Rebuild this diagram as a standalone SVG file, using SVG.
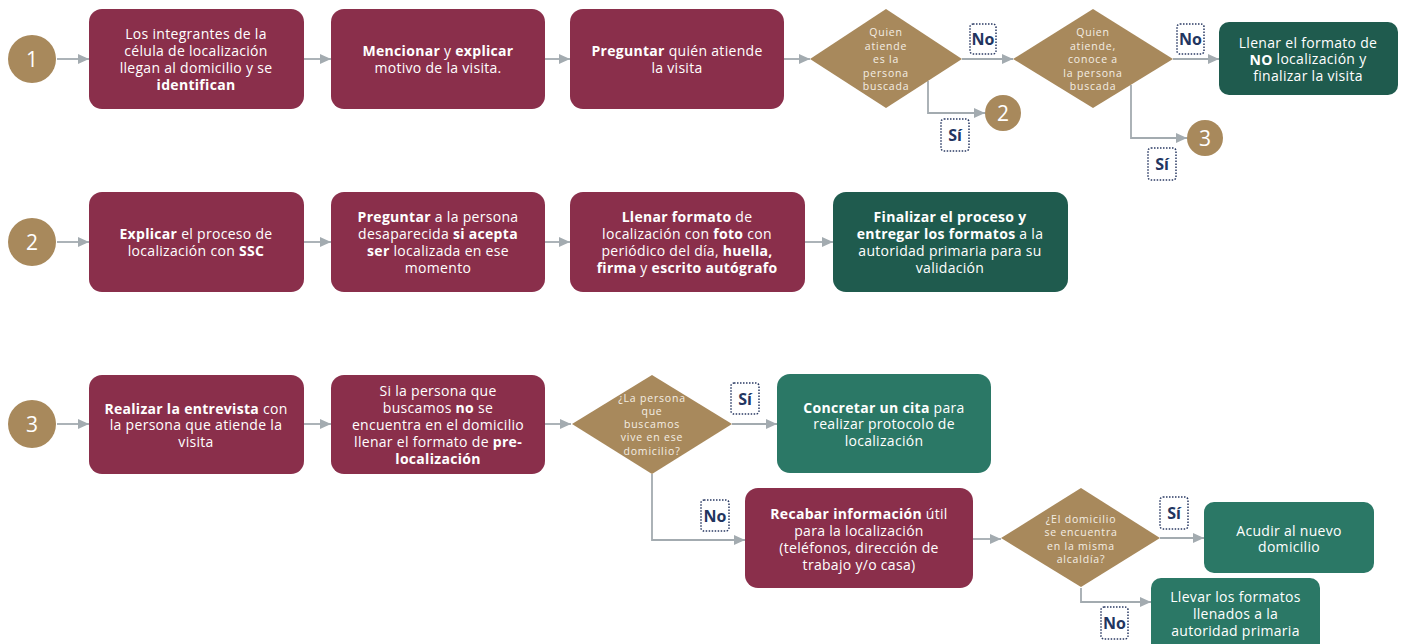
<svg xmlns="http://www.w3.org/2000/svg" width="1405" height="644" viewBox="0 0 1405 644">
<defs>
<marker id="arr" markerUnits="userSpaceOnUse" markerWidth="12" markerHeight="10" refX="11" refY="5" orient="auto">
<path d="M0,0 L11,5 L0,10 Z" fill="#A3ABB0"/>
</marker>
<style>
.con{fill:none;stroke:#A3ABB0;stroke-width:1.8;marker-end:url(#arr)}
.mar{fill:#8A2F4B}
.dg{fill:#1F5B4E}
.tg{fill:#2B7866}
.gold{fill:#A8895C}
.t{font-family:"Open Sans","Liberation Sans",sans-serif;font-size:14px;letter-spacing:0.3px;fill:#fff;text-anchor:middle;dominant-baseline:central}
.b{font-weight:700}
.d{font-family:"Open Sans","Liberation Sans",sans-serif;font-size:10.5px;letter-spacing:0.8px;fill:#F4EEE4;text-anchor:middle;dominant-baseline:central}
.n{font-family:"Open Sans","Liberation Sans",sans-serif;font-size:21px;fill:#fff;text-anchor:middle;dominant-baseline:central}
.lb rect{fill:#fff;stroke:#2A3A63;stroke-width:1.5;stroke-dasharray:1.5 1.5}
.lb text{font-family:"Open Sans","Liberation Sans",sans-serif;font-size:16px;font-weight:700;fill:#22355F;text-anchor:middle;dominant-baseline:central}
</style>
</defs>

<g id="connectors">
<path class="con" d="M57,59 H89"/>
<path class="con" d="M304,59 H331"/>
<path class="con" d="M545,59 H570"/>
<path class="con" d="M784,59 H810"/>
<path class="con" d="M962,59 H1013"/>
<path class="con" d="M1173,59 H1219"/>
<path class="con" d="M928,81 V113 H985"/>
<path class="con" d="M1131,85 V138 H1187"/>
<path class="con" d="M57,242 H89"/>
<path class="con" d="M304,242 H331"/>
<path class="con" d="M545,242 H570"/>
<path class="con" d="M805,242 H833"/>
<path class="con" d="M57,424 H89"/>
<path class="con" d="M304,424 H331"/>
<path class="con" d="M545,424 H571"/>
<path class="con" d="M732,424 H777"/>
<path class="con" d="M652,474 V540 H745"/>
<path class="con" d="M973,539 H1001"/>
<path class="con" d="M1160,538 H1204"/>
<path class="con" d="M1081,588 V602 H1151"/>
</g>

<g id="c1"><circle class="gold" cx="32" cy="59" r="24"/><text class="n" x="32" y="59">1</text></g>
<g id="c2"><circle class="gold" cx="32" cy="242" r="24"/><text class="n" x="32" y="242">2</text></g>
<g id="c3"><circle class="gold" cx="32" cy="424" r="24"/><text class="n" x="32" y="424">3</text></g>
<g id="c2b"><circle class="gold" cx="1003" cy="113" r="18"/><text class="n" x="1003" y="113">2</text></g>
<g id="c3b"><circle class="gold" cx="1205" cy="138" r="18"/><text class="n" x="1205" y="138">3</text></g>

<g id="n1">
<rect class="mar" x="89" y="9" width="215" height="100" rx="13"/>
<text class="t" x="196" y="33">Los integrantes de la</text>
<text class="t" x="196" y="50">célula de localización</text>
<text class="t" x="196" y="67">llegan al domicilio y se</text>
<text class="t b" x="196" y="84">identifican</text>
</g>
<g id="n2">
<rect class="mar" x="331" y="9" width="214" height="100" rx="13"/>
<text class="t" x="438" y="50"><tspan class="b">Mencionar</tspan> y <tspan class="b">explicar</tspan></text>
<text class="t" x="438" y="67">motivo de la visita.</text>
</g>
<g id="n3">
<rect class="mar" x="570" y="9" width="214" height="100" rx="13"/>
<text class="t" x="677" y="50"><tspan class="b">Preguntar</tspan> quién atiende</text>
<text class="t" x="677" y="67">la visita</text>
</g>
<g id="d1">
<polygon class="gold" points="886,9 962,59 886,108 810,59"/>
<text class="d" x="886" y="32">Quien</text>
<text class="d" x="886" y="45.5">atiende</text>
<text class="d" x="886" y="59">es la</text>
<text class="d" x="886" y="72.5">persona</text>
<text class="d" x="886" y="86">buscada</text>
</g>
<g id="d2">
<polygon class="gold" points="1093,9 1173,59 1093,108 1013,59"/>
<text class="d" x="1093" y="32">Quien</text>
<text class="d" x="1093" y="45.5">atiende,</text>
<text class="d" x="1093" y="59">conoce a</text>
<text class="d" x="1093" y="72.5">la persona</text>
<text class="d" x="1093" y="86">buscada</text>
</g>
<g id="n4">
<rect class="dg" x="1219" y="22" width="179" height="73" rx="10"/>
<text class="t" x="1308" y="42">Llenar el formato de</text>
<text class="t" x="1308" y="58.5"><tspan class="b">NO</tspan> localización y</text>
<text class="t" x="1308" y="75">finalizar la visita</text>
</g>

<g id="n5">
<rect class="mar" x="89" y="192" width="215" height="100" rx="13"/>
<text class="t" x="196" y="233"><tspan class="b">Explicar</tspan> el proceso de</text>
<text class="t" x="196" y="250">localización con <tspan class="b">SSC</tspan></text>
</g>
<g id="n6">
<rect class="mar" x="331" y="192" width="214" height="100" rx="13"/>
<text class="t" x="438" y="216"><tspan class="b">Preguntar</tspan> a la persona</text>
<text class="t" x="438" y="233">desaparecida <tspan class="b">si acepta</tspan></text>
<text class="t" x="438" y="250"><tspan class="b">ser</tspan> localizada en ese</text>
<text class="t" x="438" y="267">momento</text>
</g>
<g id="n7">
<rect class="mar" x="570" y="192" width="235" height="100" rx="13"/>
<text class="t" x="687" y="216"><tspan class="b">Llenar formato</tspan> de</text>
<text class="t" x="687" y="233">localización con <tspan class="b">foto</tspan> con</text>
<text class="t" x="687" y="250">periódico del día, <tspan class="b">huella,</tspan></text>
<text class="t" x="687" y="267"><tspan class="b">firma</tspan> y <tspan class="b">escrito autógrafo</tspan></text>
</g>
<g id="n8">
<rect class="dg" x="833" y="192" width="235" height="100" rx="13"/>
<text class="t b" x="950" y="216">Finalizar el proceso y</text>
<text class="t" x="950" y="233"><tspan class="b">entregar los formatos</tspan> a la</text>
<text class="t" x="950" y="250">autoridad primaria para su</text>
<text class="t" x="950" y="267">validación</text>
</g>

<g id="n9">
<rect class="mar" x="89" y="375" width="215" height="99" rx="13"/>
<text class="t" x="196" y="408"><tspan class="b">Realizar la entrevista</tspan> con</text>
<text class="t" x="196" y="424.5">la persona que atiende la</text>
<text class="t" x="196" y="441">visita</text>
</g>
<g id="n10">
<rect class="mar" x="331" y="375" width="214" height="99" rx="13"/>
<text class="t" x="438" y="390">Si la persona que</text>
<text class="t" x="438" y="407">buscamos <tspan class="b">no</tspan> se</text>
<text class="t" x="438" y="424">encuentra en el domicilio</text>
<text class="t" x="438" y="441">llenar el formato de <tspan class="b">pre-</tspan></text>
<text class="t b" x="438" y="458">localización</text>
</g>
<g id="d3">
<polygon class="gold" points="652,375 732,424 652,474 572,424"/>
<text class="d" x="652" y="397.5">¿La persona</text>
<text class="d" x="652" y="411">que</text>
<text class="d" x="652" y="424">buscamos</text>
<text class="d" x="652" y="437">vive en ese</text>
<text class="d" x="652" y="450.5">domicilio?</text>
</g>
<g id="n11">
<rect class="tg" x="777" y="374" width="214" height="99" rx="13"/>
<text class="t" x="884" y="407"><tspan class="b">Concretar un cita</tspan> para</text>
<text class="t" x="884" y="423.5">realizar protocolo de</text>
<text class="t" x="884" y="440">localización</text>
</g>
<g id="n12">
<rect class="mar" x="745" y="488" width="228" height="100" rx="13"/>
<text class="t" x="859" y="513"><tspan class="b">Recabar información</tspan> útil</text>
<text class="t" x="859" y="530">para la localización</text>
<text class="t" x="859" y="547">(teléfonos, dirección  de</text>
<text class="t" x="859" y="564">trabajo y/o casa)</text>
</g>
<g id="d4">
<polygon class="gold" points="1081,488 1160,538 1081,587 1001,538"/>
<text class="d" x="1081" y="519">¿El domicilio</text>
<text class="d" x="1081" y="532">se encuentra</text>
<text class="d" x="1081" y="545.5">en la misma</text>
<text class="d" x="1081" y="559">alcaldía?</text>
</g>
<g id="n13">
<rect class="tg" x="1204" y="502" width="170" height="71" rx="10"/>
<text class="t" x="1289" y="530">Acudir al nuevo</text>
<text class="t" x="1289" y="546.5">domicilio</text>
</g>
<g id="n14">
<rect class="tg" x="1151" y="578" width="169" height="76" rx="10"/>
<text class="t" x="1235.5" y="596">Llevar los formatos</text>
<text class="t" x="1235.5" y="613">llenados a la</text>
<text class="t" x="1235.5" y="630">autoridad primaria</text>
</g>

<g id="labels">
<g class="lb"><rect x="970" y="24" width="26" height="30" rx="3"/><text x="983" y="39">No</text></g>
<g class="lb"><rect x="941" y="119" width="28" height="32" rx="3"/><text x="955" y="135">Sí</text></g>
<g class="lb"><rect x="1177" y="24" width="27" height="30" rx="3"/><text x="1190.5" y="39">No</text></g>
<g class="lb"><rect x="1148" y="148" width="28" height="32" rx="3"/><text x="1162" y="164">Sí</text></g>
<g class="lb"><rect x="731" y="383" width="28" height="31" rx="3"/><text x="745" y="398.5">Sí</text></g>
<g class="lb"><rect x="701" y="500" width="28" height="31" rx="3"/><text x="715" y="515.5">No</text></g>
<g class="lb"><rect x="1160" y="497" width="28" height="32" rx="3"/><text x="1174" y="513">Sí</text></g>
<g class="lb"><rect x="1101" y="607" width="27" height="32" rx="3"/><text x="1114.5" y="623">No</text></g>
</g>
</svg>
